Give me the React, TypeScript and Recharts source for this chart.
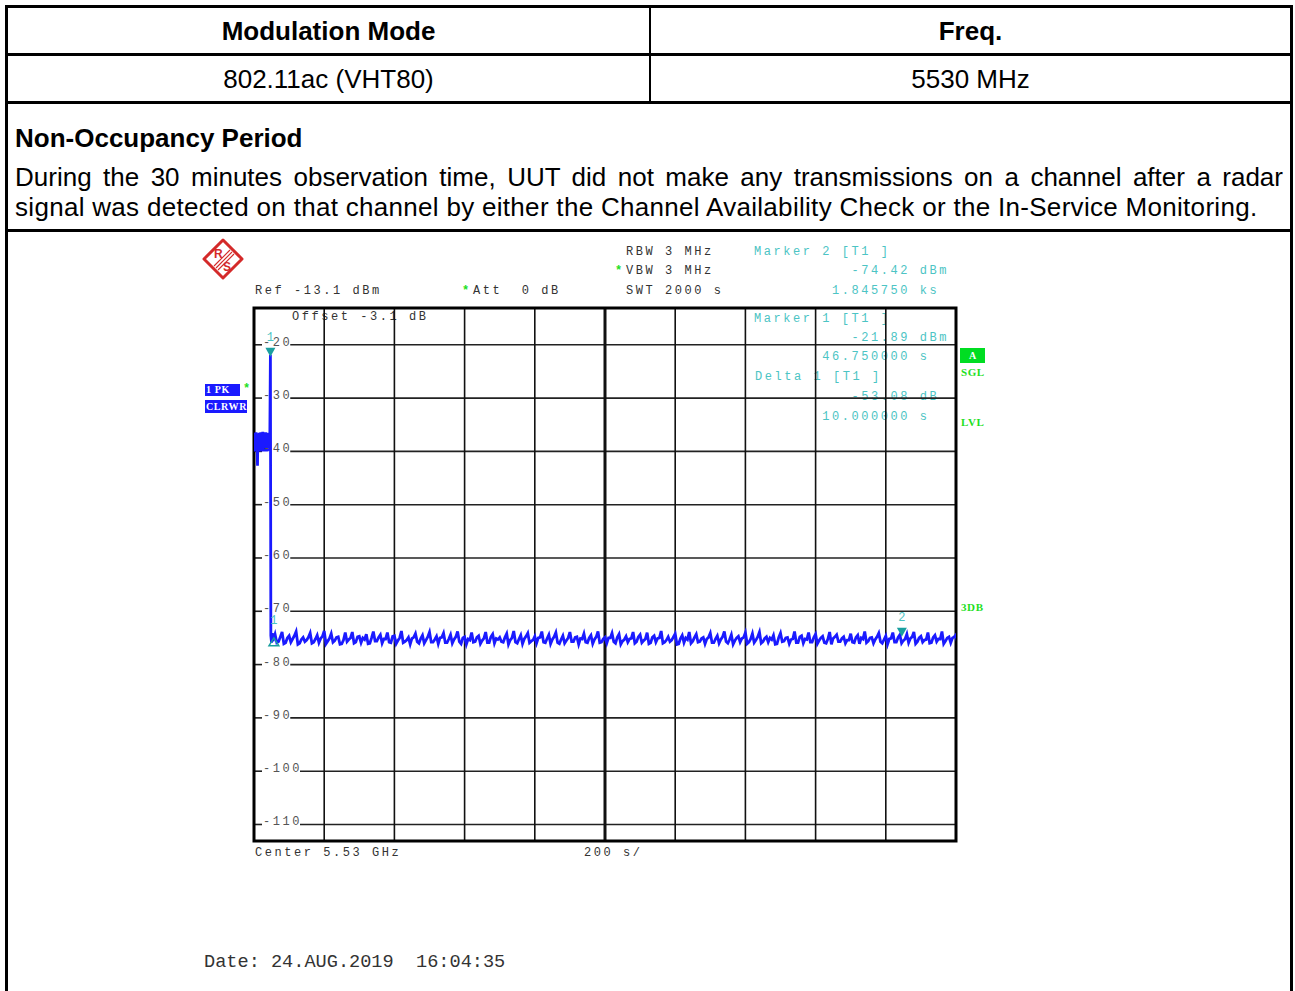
import React from 'react';
import {
    LineChart, Line, XAxis, YAxis, CartesianGrid, ReferenceArea, ReferenceDot,
} from 'recharts';

// sweep head: the radar burst region (time in s, level in dBm)
const headTimes = [
    0, 1, 2, 3, 4, 5, 6, 7, 8, 9, 10, 11, 12, 13, 14, 15, 16, 17, 18, 19, 20, 21, 22,
    23, 24, 25, 26, 27, 28, 29, 30, 31, 32, 33, 34, 35, 36, 37, 38, 39, 40, 41, 42, 43, 44, 45,
    46.75, 48, 50, 52, 54, 56.75,
];
const headLevels = [
    -37.0, -39.8, -36.5, -40.0, -36.9, -39.6, -36.4, -39.9, -37.1, -39.7, -42.7, -36.6, -39.9, -36.8, -40.0, -36.5, -39.6, -37.0, -39.9, -36.4, -39.8, -36.9, -40.0,
    -36.6, -39.7, -36.3, -39.9, -37.0, -39.8, -36.5, -40.0, -36.8, -39.6, -36.4, -39.9, -36.9, -39.7, -36.5, -40.0, -37.1, -39.8, -36.6, -39.9, -36.9, -39.6, -38.5,
    -21.89, -74.6, -75.9, -74.1, -75.6, -74.97,
];

// noise floor after the burst: peak and pit of each 10 s sweep bin from 60 s
const FLOOR_START = 60;
const FLOOR_STEP = 10;
const floorPeaks = [
    -74.3, -75.7, -73.9, -75.9, -74.6, -75.2, -73.8, -76.0, -74.9, -75.4, -74.1, -75.8, -74.5, -75.1, -73.7,
    -75.6, -74.2, -75.5, -74.8, -76.1, -74.0, -75.3, -73.9, -75.8, -74.7, -75.0, -74.3, -76.0, -73.8, -75.6,
    -74.4, -75.2, -74.0, -75.9, -74.6, -75.5, -73.7, -75.7, -74.9, -75.1, -74.2, -76.0, -74.5, -75.4, -73.9,
    -75.8, -74.7, -75.0, -74.1, -75.9, -74.4, -75.3, -73.8, -76.1, -74.8, -75.2, -74.0, -75.7, -74.6, -75.5,
    -73.9, -75.9, -74.3, -75.1, -74.9, -75.8, -74.2, -75.4, -73.7, -76.0, -74.5, -75.2, -74.1, -75.6, -74.7,
    -75.0, -73.8, -75.9, -74.4, -75.3, -74.0, -76.1, -74.6, -75.5, -73.9, -75.7, -74.8, -75.1, -74.2, -75.9,
    -74.5, -75.3, -73.8, -75.8, -74.9, -75.0, -74.1, -76.0, -74.3, -75.6, -74.7, -75.2, -73.9, -75.7, -74.4,
    -75.5, -74.0, -75.9, -74.6, -75.1, -73.7, -75.8, -74.8, -75.4, -74.2, -76.1, -74.5, -75.0, -73.9, -75.6,
    -74.3, -75.7, -74.9, -75.2, -74.1, -75.9, -74.6, -75.3, -73.8, -76.0, -74.4, -75.5, -74.7, -75.1, -74.0,
    -75.8, -74.2, -75.4, -73.9, -75.7, -74.8, -75.0, -74.5, -76.1, -74.1, -75.6, -74.9, -75.3, -73.8, -75.9,
    -74.6, -75.2, -74.0, -75.8, -74.3, -75.5, -74.7, -76.0, -73.9, -75.1, -74.4, -75.7, -74.8, -75.4, -74.2,
    -75.9, -74.5, -75.0, -73.8, -75.6, -74.9, -75.3, -74.1, -76.0, -74.6, -75.2, -74.0, -75.8, -74.42, -75.5,
    -74.3, -75.1, -73.9, -75.7, -74.7, -75.4, -74.0, -75.9, -74.5, -75.2, -73.8, -75.6, -74.8, -75.0, -74.4,
];
const floorPits = [
    -75.9, -74.8, -76.1, -75.0, -75.8, -74.6, -76.2, -75.3, -75.7, -74.9, -76.0, -75.2, -75.9, -74.7, -76.1,
    -75.1, -75.8, -74.9, -76.2, -75.4, -75.7, -75.0, -76.0, -74.8, -75.9, -75.3, -76.1, -75.0, -75.6, -74.9,
    -76.0, -75.2, -75.8, -74.7, -76.1, -75.0, -75.9, -75.4, -76.2, -74.9, -75.7, -75.1, -76.0, -74.8, -75.8,
    -75.3, -76.1, -74.9, -75.9, -75.2, -76.0, -74.8, -75.7, -75.0, -76.2, -75.4, -75.8, -74.9, -76.1, -75.1,
    -75.9, -74.8, -76.0, -75.3, -75.7, -74.9, -76.2, -75.0, -75.8, -75.2, -76.1, -74.7, -75.9, -75.4, -76.0,
    -74.9, -75.8, -75.1, -76.1, -74.8, -75.9, -75.3, -76.0, -75.0, -75.7, -74.9, -76.2, -75.2, -75.8, -75.0,
    -76.1, -74.8, -75.9, -75.2, -76.0, -75.0, -75.7, -74.9, -76.2, -75.3, -75.8, -75.1, -76.0, -74.8, -75.9,
    -75.2, -76.1, -74.9, -75.8, -75.0, -76.0, -75.4, -75.7, -74.8, -76.2, -75.1, -75.9, -75.3, -76.0, -74.9,
    -75.8, -75.1, -76.1, -74.9, -75.9, -75.2, -76.0, -74.8, -75.7, -75.3, -76.2, -75.0, -75.8, -74.9, -76.1,
    -75.2, -75.9, -74.8, -76.0, -75.1, -75.8, -75.3, -76.2, -74.9, -75.7, -75.0, -76.1, -75.2, -75.9, -74.8,
    -76.0, -75.3, -75.8, -74.9, -76.1, -75.0, -75.9, -75.2, -76.2, -74.8, -75.7, -75.1, -76.0, -75.4, -75.8,
    -74.9, -76.1, -75.2, -75.9, -75.0, -76.0, -74.8, -75.7, -75.3, -76.2, -75.1, -75.8, -74.9, -76.0, -75.2,
    -75.9, -74.8, -76.1, -75.0, -75.8, -75.3, -76.0, -74.9, -75.7, -75.2, -76.1, -75.0, -75.9, -74.8, -76.0,
];

const levelTicks = [-20, -30, -40, -50, -60, -70, -80, -90, -100, -110];
const timeTicks = [200, 400, 600, 800, 1000, 1200, 1400, 1600, 1800];
const LEVEL_DOMAIN = [-113.1, -13.1];
const TIME_DOMAIN = [0, 2000];

const markers = [
    { id: '1', t: 46.75, level: -21.89, delta: false },
    { id: '2', t: 1845.75, level: -74.42, delta: false },
    { id: '1', t: 56.75, level: -74.97, delta: true },
];

const data = [
    ...headTimes.map((t, i) => ({ t, v: headLevels[i] })),
    ...floorPeaks.flatMap((v, i) => [
        { t: FLOOR_START + i * FLOOR_STEP, v },
        { t: FLOOR_START + i * FLOOR_STEP + FLOOR_STEP / 2, v: floorPits[i] },
    ]),
];

const MONO = "'Courier New', 'Liberation Mono', monospace";
const SANS = "Arial, 'Liberation Sans', sans-serif";
const SERIF = "'Liberation Serif', 'DejaVu Serif', serif";
const PITCH = 9.75;
const TEAL = '#4cc4c4';
const GREEN = '#1ee01e';
const BLUE = '#1a1aff';
const RED = '#d42a2a';

const CHART = { left: 240, top: 300, width: 740, height: 560 };
const margin = { top: 8, right: 24, bottom: 19, left: 14 };
const plotW = CHART.width - margin.left - margin.right;

const Mono = ({ x, y, children, color = '#333', size = 12, spacing = 2.55 }: any) => (
    <div style={{
        position: 'absolute', left: x, top: y - 8, height: 16, lineHeight: '16px',
        fontFamily: MONO, fontSize: size, letterSpacing: spacing, color, whiteSpace: 'pre',
    }}>{children}</div>
);

const Star = ({ x, y }: any) => (
    <div style={{ position: 'absolute', left: x, top: y - 7, fontSize: 12, lineHeight: '12px', color: GREEN, fontFamily: MONO, fontWeight: 'bold' }}>*</div>
);

const Tag = ({ x, y, w, h, bg, children }: any) => (
    <div style={{
        position: 'absolute', left: x, top: y, width: w, height: h, background: bg, color: '#fff',
        fontFamily: SERIF, fontWeight: 'bold', fontSize: 10, letterSpacing: 0.6, lineHeight: `${h}px`,
        paddingLeft: 1, boxSizing: 'border-box', whiteSpace: 'pre', overflow: 'hidden',
    }}>{children}</div>
);

const Side = ({ x, y, children }: any) => (
    <div style={{
        position: 'absolute', left: x, top: y - 6, lineHeight: '12px', color: GREEN,
        fontFamily: SERIF, fontWeight: 'bold', fontSize: 11, letterSpacing: 0.6,
    }}>{children}</div>
);

const EmptyTick = () => <g />;

const LevelTick = (p: any) => (
    <text x={margin.left + 9} y={p.y + 1} fontFamily={MONO} fontSize={12} fill="#555" style={{ letterSpacing: 2.55 }}>
        {p.payload.value}
    </text>
);

const hLine = (p: any) => {
    const label = String(levelTicks[p.index] ?? '');
    const gapEnd = p.x1 + 9 + label.length * PITCH - 2;
    return (
        <g key={`h-${p.index}`}>
            <line x1={p.x1} x2={p.x1 + 8} y1={p.y1} y2={p.y2} stroke="#222" strokeWidth={1.6} />
            <line x1={gapEnd} x2={p.x2} y1={p.y1} y2={p.y2} stroke="#222" strokeWidth={1.6} />
        </g>
    );
};

const vLine = (p: any) => {
    const center = Math.abs(p.x1 - (margin.left + plotW / 2)) < 2;
    return <line key={`v-${p.index}`} x1={p.x1} x2={p.x2} y1={p.y1} y2={p.y2} stroke="#111" strokeWidth={center ? 3 : 1.6} />;
};

const markerShape = (id: string, delta: boolean) => (p: any) => {
    const { cx, cy } = p;
    if (delta) {
        return (
            <g>
                <path d={`M${cx},${cy} L${cx + 5},${cy + 8} L${cx - 5},${cy + 8} Z`} fill="none" stroke="#1a9f9f" strokeWidth={1.4} />
                <text x={cx} y={cy - 14} textAnchor="middle" fontFamily={MONO} fontSize={12} fill={TEAL}>{id}</text>
            </g>
        );
    }
    return (
        <g>
            <path d={`M${cx - 5},${cy - 7} L${cx + 5},${cy - 7} L${cx},${cy + 2} Z`} fill="#1a9f9f" />
            <text x={cx} y={cy - 14} textAnchor="middle" fontFamily={MONO} fontSize={12} fill={TEAL}>{id}</text>
        </g>
    );
};

const Logo = () => (
    <svg width={42} height={42} style={{ position: 'absolute', left: 202, top: 238 }} viewBox="0 0 42 42">
        <polygon points="21,2 40,21 21,40 2,21" fill="#fff" stroke={RED} strokeWidth={3} strokeLinejoin="round" />
        <line x1={14} y1={30} x2={30} y2={14} stroke={RED} strokeWidth={1.1} />
        <line x1={12} y1={28} x2={28} y2={12} stroke={RED} strokeWidth={1.1} />
        <line x1={16} y1={32} x2={32} y2={16} stroke={RED} strokeWidth={1.1} />
        <text x={12} y={20} fontFamily={SANS} fontWeight="bold" fontSize={12} fill={RED}>R</text>
        <text x={21} y={33} fontFamily={SANS} fontWeight="bold" fontSize={12} fill={RED}>S</text>
    </svg>
);

const Cell = ({ x, y, w, h, bold, children }: any) => (
    <div style={{
        position: 'absolute', left: x, top: y, width: w, height: h, display: 'flex',
        alignItems: 'center', justifyContent: 'center', fontFamily: SANS, fontSize: 26,
        fontWeight: bold ? 'bold' : 'normal', color: '#000',
    }}>{children}</div>
);

const rule = (top: number) => (
    <div style={{ position: 'absolute', left: 5, top, width: 1288, height: 3, background: '#000' }} />
);

const App = () => (
    <div style={{ position: 'absolute', left: 0, top: 0, width: 1295, height: 991, overflow: 'hidden', background: '#fff' }}>
        <div style={{ position: 'absolute', left: 5, top: 5, width: 1288, height: 1000, border: '3px solid #000', boxSizing: 'border-box' }} />
        {rule(53)}
        {rule(101)}
        {rule(229)}
        <div style={{ position: 'absolute', left: 649, top: 8, width: 2, height: 94, background: '#000' }} />

        <Cell x={8} y={8} w={641} h={46} bold>Modulation Mode</Cell>
        <Cell x={651} y={8} w={639} h={46} bold>Freq.</Cell>
        <Cell x={8} y={56} w={641} h={46}>802.11ac (VHT80)</Cell>
        <Cell x={651} y={56} w={639} h={46}>5530 MHz</Cell>

        <div style={{ position: 'absolute', left: 15, top: 122, fontFamily: SANS, fontSize: 26, fontWeight: 'bold', lineHeight: '32px' }}>
            Non-Occupancy Period
        </div>
        <div style={{ position: 'absolute', left: 15, top: 161, width: 1268, fontFamily: SANS, fontSize: 26, lineHeight: '32px', textAlign: 'justify', textAlignLast: 'justify' }}>
            During the 30 minutes observation time, UUT did not make any transmissions on a channel after a radar
        </div>
        <div style={{ position: 'absolute', left: 15, top: 191, fontFamily: SANS, fontSize: 26, letterSpacing: 0.3, lineHeight: '32px', whiteSpace: 'nowrap' }}>
            signal was detected on that channel by either the Channel Availability Check or the In-Service Monitoring.
        </div>

        <Logo />
        <Mono x={626} y={252}>RBW 3 MHz</Mono>
        <Star x={615} y={272} />
        <Mono x={626} y={271}>VBW 3 MHz</Mono>
        <Mono x={626} y={291}>SWT 2000 s</Mono>
        <Mono x={255} y={291}>Ref -13.1 dBm</Mono>
        <Star x={462} y={292} />
        <Mono x={473} y={291}>Att  0 dB</Mono>

        <Mono x={754} y={252} color={TEAL}>Marker 2 [T1 ]</Mono>
        <Mono x={754} y={271} color={TEAL}>{'          -74.42 dBm'}</Mono>
        <Mono x={754} y={291} color={TEAL}>{'        1.845750 ks'}</Mono>
        <Mono x={754} y={319} color={TEAL}>Marker 1 [T1 ]</Mono>
        <Mono x={754} y={338} color={TEAL}>{'          -21.89 dBm'}</Mono>
        <Mono x={754} y={357} color={TEAL}>{'       46.750000 s'}</Mono>
        <Mono x={755} y={377} color={TEAL}>Delta 1 [T1 ]</Mono>
        <Mono x={754} y={397} color={TEAL}>{'          -53.08 dB'}</Mono>
        <Mono x={754} y={417} color={TEAL}>{'       10.000000 s'}</Mono>
        <Mono x={292} y={317}>Offset -3.1 dB</Mono>
        <Mono x={255} y={853}>Center 5.53 GHz</Mono>
        <Mono x={584} y={853}>200 s/</Mono>
        <Mono x={204} y={963} size={18.6} spacing={0}>Date: 24.AUG.2019  16:04:35</Mono>

        <Tag x={205} y={384} w={35} h={12} bg={BLUE}>1 PK</Tag>
        <Star x={243} y={390} />
        <Tag x={205} y={400} w={42} h={13} bg={BLUE}>CLRWR</Tag>
        <div style={{
            position: 'absolute', left: 960, top: 348, width: 25, height: 15, background: '#00dd22', color: '#fff',
            fontFamily: SERIF, fontWeight: 'bold', fontSize: 10, lineHeight: '15px', textAlign: 'center',
        }}>A</div>
        <Side x={961} y={372}>SGL</Side>
        <Side x={961} y={422}>LVL</Side>
        <Side x={961} y={607}>3DB</Side>

        <div style={{ position: 'absolute', left: CHART.left, top: CHART.top }}>
            <LineChart width={CHART.width} height={CHART.height} data={data} margin={margin}>
                <CartesianGrid horizontal={hLine} vertical={vLine} verticalValues={timeTicks} />
                <XAxis
                    dataKey="t"
                    type="number"
                    domain={TIME_DOMAIN}
                    ticks={timeTicks}
                    interval={0}
                    height={0}
                    tick={EmptyTick}
                    axisLine={false}
                    tickLine={false}
                    allowDataOverflow
                />
                <YAxis
                    type="number"
                    domain={LEVEL_DOMAIN}
                    ticks={levelTicks}
                    interval={0}
                    mirror
                    axisLine={false}
                    tickLine={false}
                    tick={LevelTick}
                    allowDataOverflow
                />
                <ReferenceArea
                    x1={TIME_DOMAIN[0]}
                    x2={TIME_DOMAIN[1]}
                    y1={LEVEL_DOMAIN[0]}
                    y2={LEVEL_DOMAIN[1]}
                    fill="none"
                    stroke="#000"
                    strokeWidth={3}
                    fillOpacity={0}
                />
                <Line
                    type="linear"
                    dataKey="v"
                    stroke={BLUE}
                    strokeWidth={2.8}
                    strokeLinejoin="miter"
                    dot={false}
                    isAnimationActive={false}
                />
                {markers.map((m, i) => (
                    <ReferenceDot key={i} x={m.t} y={m.level} r={5} shape={markerShape(m.id, m.delta)} />
                ))}
            </LineChart>
        </div>
    </div>
);

export default App;
